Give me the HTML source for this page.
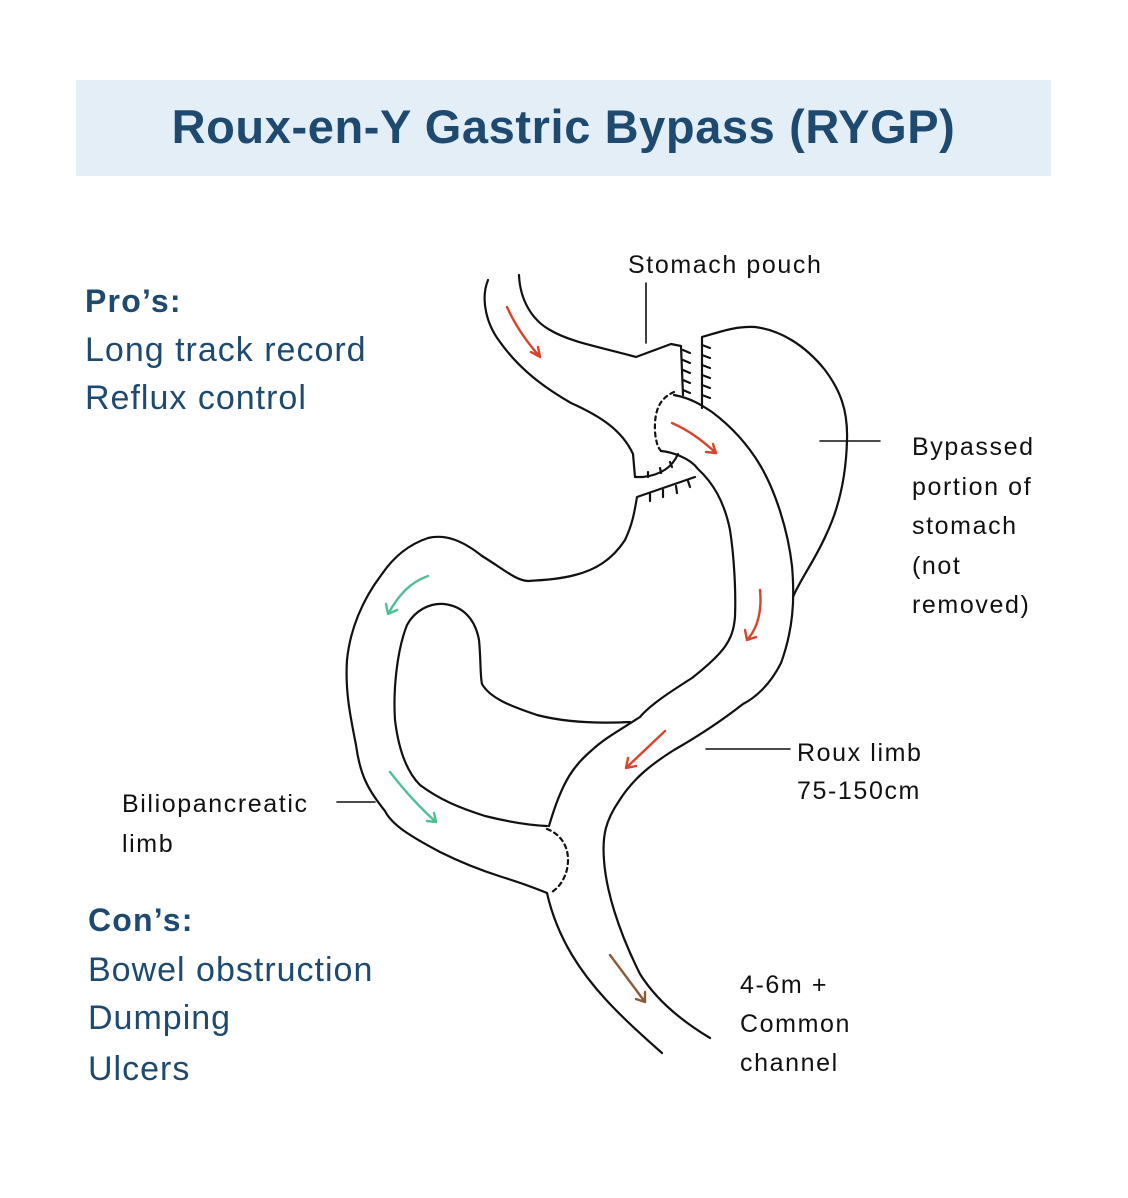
<!DOCTYPE html>
<html><head><style>
body{margin:0;width:1128px;height:1198px;background:#fff;position:relative;overflow:hidden;font-family:"Liberation Sans",sans-serif}
.t{position:absolute;white-space:nowrap}
.b{color:#1f4a70}
.k{color:#111;font-size:25px;letter-spacing:1.6px}
.l{font-size:34px;letter-spacing:1px}
.h{font-size:32px;font-weight:bold;letter-spacing:1.2px}
</style></head><body>
<div style="position:absolute;left:76px;top:80px;width:975px;height:96px;background:#e3eef6"></div>
<div class="t b" style="left:76px;width:975px;text-align:center;top:99px;font-size:47px;font-weight:bold;letter-spacing:0.6px">Roux-en-Y Gastric Bypass (RYGP)</div>
<div class="t b h" style="left:85px;top:283px">Pro’s:</div>
<div class="t b l" style="left:85px;top:331px">Long track record</div>
<div class="t b l" style="left:85px;top:379px">Reflux control</div>
<div class="t b h" style="left:88px;top:902px">Con’s:</div>
<div class="t b l" style="left:88px;top:951px">Bowel obstruction</div>
<div class="t b l" style="left:88px;top:999px">Dumping</div>
<div class="t b l" style="left:88px;top:1050px">Ulcers</div>
<div class="t k" style="left:628px;top:251px">Stomach pouch</div>
<div class="t k" style="left:912px;top:428px;line-height:39.5px">Bypassed<br>portion of<br>stomach<br>(not<br>removed)</div>
<div class="t k" style="left:797px;top:734px;line-height:38px">Roux limb<br>75-150cm</div>
<div class="t k" style="left:122px;top:784px;line-height:40px">Biliopancreatic<br>limb</div>
<div class="t k" style="left:740px;top:966px;line-height:39px">4-6m +<br>Common<br>channel</div>
<svg width="1128" height="1198" style="position:absolute;left:0;top:0" fill="none" stroke="#111" stroke-width="2.2" stroke-linecap="round" stroke-linejoin="round">
<path d="M646 283V343M820 441H880M706 749H790M337 802H375" stroke-width="1.6"/>
<path d="M488 280C480 300 487 325 500 342C520 370 545 388 571 403C600 416 622 430 633 454L635 477L643 477C660 475 672 468 678 454"/>
<path d="M519 275C520 300 532 320 550 330C570 342 600 347 636 357L671 344L681 346L683 395"/>
<path d="M683 350l7 3M683 360l7 3M683 370l7 3M683 380l7 3M683 390l7 3M648 472l0 5M660 468l1 5M670 462l2 5"/>
<path d="M674 392C660 398 654 410 655 432C656 442 658 448 661 451" stroke-dasharray="4 4"/>
<path d="M661 451C672 452 690 458 698 469C712 482 724 500 730 530C734 556 736 590 735 617C733 640 725 652 692 678C670 692 650 705 640 717C620 730 605 738 592 750C575 765 563 778 549 826"/>
<path d="M674 395C690 398 700 404 712 412C728 424 745 440 760 465C775 490 788 530 792 566C795 600 793 630 781 663C770 685 755 698 743 704C720 722 695 738 674 750C650 765 632 780 619 801C606 820 602 835 604 860C606 890 618 930 640 974C655 998 680 1020 710 1038"/>
<path d="M547 893C552 915 560 935 572 955C590 985 615 1012 662 1053"/>
<path d="M547 829C560 834 568 845 568 860C568 875 560 888 550 893" stroke-dasharray="4 4"/>
<path d="M547 826C525 825 505 821 485 816C460 808 440 800 420 785C405 770 398 745 395 720C393 690 397 650 407 625C415 610 430 603 444 604C462 606 475 618 479 640C481 660 480 675 482 684C490 698 510 706 537 715C560 721 590 724 630 722"/>
<path d="M547 893C530 886 515 881 502 877C480 870 460 862 440 852C410 836 392 825 385 811C368 790 360 775 356 745C350 715 345 690 347 660C350 630 362 600 382 574C395 555 410 544 428 538C445 534 462 540 482 556C505 570 515 580 528 581C545 580 560 579 575 575C595 570 612 560 625 540C632 525 634 515 637 497L695 477"/>
<path d="M650 494l0 7M663 490l0 7M676 486l1 7M688 481l2 6"/>
<path d="M702 337L702 408M702 337C720 332 735 326 755 327C780 330 805 345 825 370C840 390 848 410 847 440C846 480 838 510 826 535C815 560 800 580 793 597"/>
<path d="M702 345l8 3M702 355l8 3M702 365l8 3M702 375l8 3M702 385l8 3M702 395l8 3"/>
<g stroke-width="2.4">
<path d="M507 307C515 325 525 340 540 357M531 352l9 5l-2-10" stroke="#d9442c"/>
<path d="M672 423C688 430 702 440 716 453M706 452l10 1l-3-9" stroke="#d9442c"/>
<path d="M760 590C762 610 758 628 747 640M745 630l2 10l9-3" stroke="#d9442c"/>
<path d="M665 731L626 768M628 758l-2 10l10-2" stroke="#d9442c"/>
<path d="M428 576C410 582 398 596 388 614M386 604l2 10l9-4" stroke="#4fbf95"/>
<path d="M390 772C404 790 418 806 436 822M427 821l9 1l-2-9" stroke="#4fbf95"/>
<path d="M610 955L645 1002M636 999l9 3l0-10" stroke="#8a5a3a"/>
</g>
</svg>
</body></html>
